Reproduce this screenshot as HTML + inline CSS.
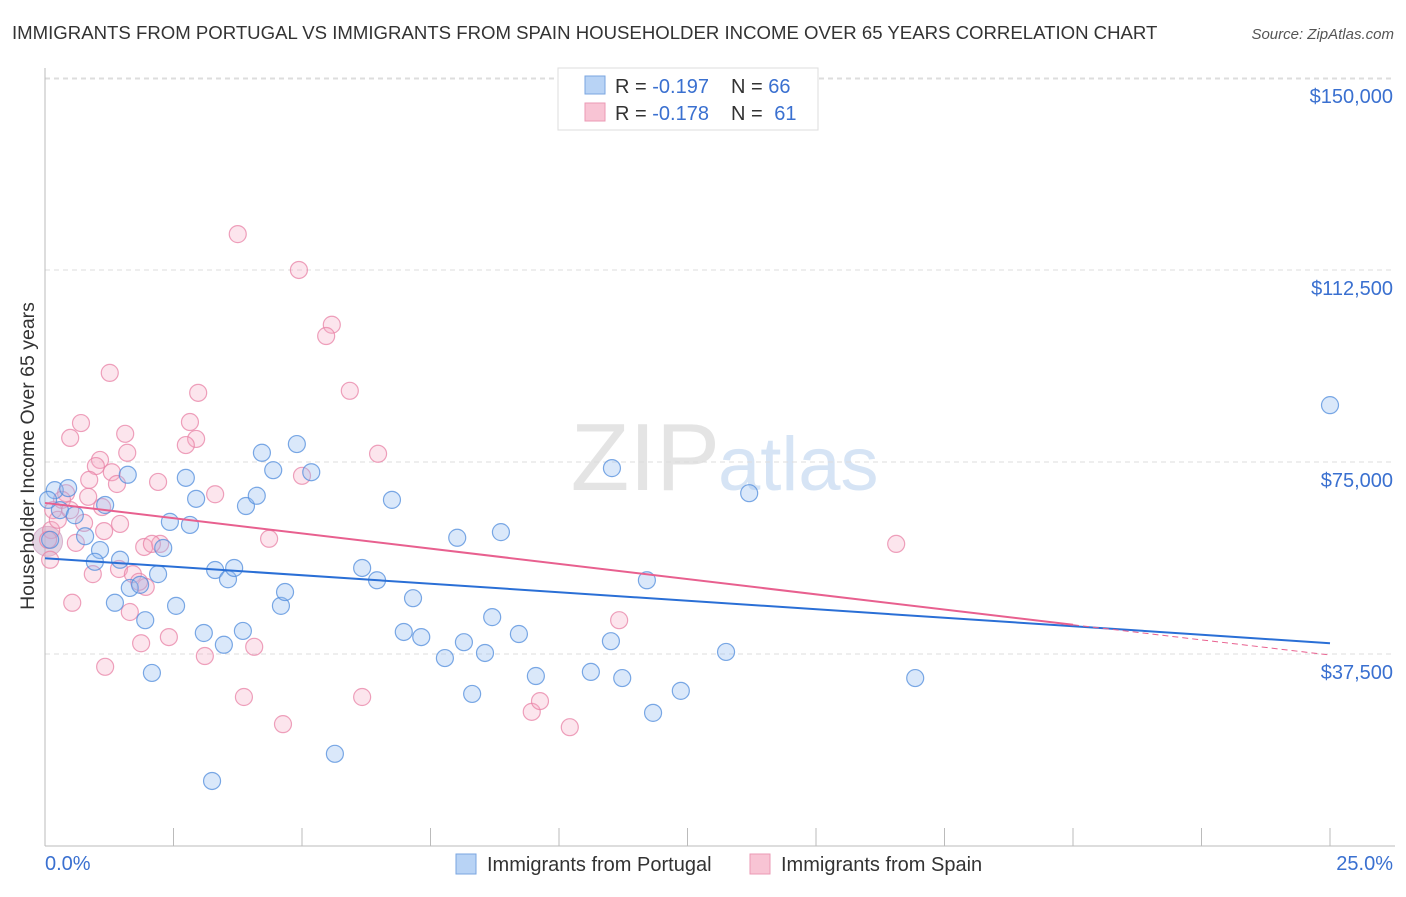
<!DOCTYPE html>
<html><head><meta charset="utf-8"><style>
body{margin:0;background:#fff;font-family:"Liberation Sans",sans-serif;}
svg text{font-family:"Liberation Sans",sans-serif;}
</style></head><body>
<svg id="chart" width="1406" height="892" xmlns="http://www.w3.org/2000/svg">
<text x="12" y="39" font-size="18.6" fill="#333">IMMIGRANTS FROM PORTUGAL VS IMMIGRANTS FROM SPAIN HOUSEHOLDER INCOME OVER 65 YEARS CORRELATION CHART</text>
<text x="1394" y="39" font-size="15" fill="#555" font-style="italic" text-anchor="end">Source: ZipAtlas.com</text>
<text x="720" y="490" font-size="96" fill="#e4e4e4" text-anchor="end" font-family="Liberation Serif">ZIP</text>
<text x="718" y="490" font-size="76" fill="#d6e4f5">atlas</text>
<g id="grid"></g><g id="axes"></g><g id="pts"></g><g id="lines"></g>
<text transform="translate(34,456) rotate(-90)" font-size="19.5" fill="#333" text-anchor="middle">Householder Income Over 65 years</text>
<text x="45" y="870" font-size="20" fill="#3a70d0">0.0%</text>
<text x="1393" y="870" font-size="20" fill="#3a70d0" text-anchor="end">25.0%</text>
<g>
<rect x="558" y="68" width="260" height="62" fill="#fff" stroke="#ddd"/>
<rect x="585" y="76" width="20" height="18" fill="#b8d3f5" stroke="#7aa6e0"/>
<rect x="585" y="103" width="20" height="18" fill="#f8c4d4" stroke="#eb9ab4"/>
<text x="615" y="93" font-size="20" fill="#333">R = <tspan fill="#3a70d0">-0.197</tspan><tspan x="731">N = </tspan><tspan fill="#3a70d0">66</tspan></text>
<text x="615" y="120" font-size="20" fill="#333">R = <tspan fill="#3a70d0">-0.178</tspan><tspan x="731">N = </tspan><tspan fill="#3a70d0" dx="6">61</tspan></text>
</g>
<g>
<rect x="456" y="854" width="20" height="20" fill="#b8d3f5" stroke="#7aa6e0"/>
<text x="487" y="871" font-size="20" fill="#333">Immigrants from Portugal</text>
<rect x="750" y="854" width="20" height="20" fill="#f8c4d4" stroke="#eb9ab4"/>
<text x="781" y="871" font-size="20" fill="#333">Immigrants from Spain</text>
</g>
</svg>
<script>
const yTicks=[37.5,75,112.5,150];
const yTickLabels=["$37,500","$75,000","$112,500","$150,000"];
const xTicks=[0,2.5,5,7.5,10,12.5,15,17.5,20,22.5,25];
const portugalX=[0.19,0.45,0.29,0.58,0.78,1.07,0.97,1.17,1.46,1.61,1.36,1.65,1.85,1.95,2.20,2.30,2.43,2.08,2.55,2.74,2.82,2.94,3.09,3.25,3.31,3.48,3.56,3.68,3.85,3.91,4.12,4.22,4.44,4.59,4.67,4.90,5.18,5.64,6.17,6.46,6.75,6.98,7.16,7.32,7.78,8.02,8.15,8.31,8.56,8.70,8.87,9.22,9.55,10.62,11.01,11.03,11.23,11.71,11.83,12.37,13.25,13.70,16.93,25.0,0.10,0.06];
const portugalY=[69.5,69.9,65.6,64.6,60.5,57.8,55.5,66.6,55.9,72.5,47.5,50.4,51.0,44.1,53.1,58.2,63.3,33.8,46.9,71.9,62.7,67.8,41.6,12.7,53.9,39.3,52.1,54.3,42.0,66.4,68.4,76.8,73.4,46.9,49.6,78.5,73.0,18.0,54.3,51.9,67.6,41.8,48.4,40.8,36.7,60.2,39.8,29.7,37.7,44.7,61.3,41.4,33.2,34.0,40.0,73.8,32.8,51.9,26.0,30.3,37.9,68.9,32.8,86.1,59.8,67.6];
const spainX=[3.75,4.94,5.58,5.47,1.26,2.98,5.93,0.70,2.82,0.49,1.56,2.94,2.74,1.60,1.07,6.48,0.99,1.30,0.86,1.40,2.20,5.00,3.31,0.84,0.41,1.11,0.16,0.76,1.46,0.12,1.15,0.60,2.24,1.93,2.08,4.36,1.44,1.71,1.96,0.93,1.83,0.53,1.65,1.87,2.41,3.11,4.07,1.17,3.87,4.63,6.17,9.47,9.63,10.21,11.17,16.56,0.06,0.25,0.33,0.10,0.49];
const spainY=[119.5,112.5,101.8,99.6,92.4,88.5,88.9,82.6,82.8,79.7,80.5,79.5,78.3,76.8,75.4,76.6,74.2,73.0,71.5,70.7,71.1,72.3,68.7,68.2,68.9,66.2,65.6,63.1,62.9,61.7,61.5,59.2,59.0,58.4,59.0,60.0,54.1,53.1,50.6,53.1,51.6,47.5,45.7,39.6,40.8,37.1,38.9,35.0,29.1,23.8,29.1,26.2,28.3,23.2,44.1,59.0,59.8,63.7,67.6,55.9,65.6];
const portugalTrend=[56.2,39.6];
const spainTrend=[67.0,43.2,37.3];
const NS="http://www.w3.org/2000/svg";
const X=v=>45+v*51.4, Y=v=>846-v/0.1953;
function mk(tag,at,parent){const e=document.createElementNS(NS,tag);for(const k in at)e.setAttribute(k,at[k]);document.getElementById(parent).appendChild(e);return e;}
const gl=mk('line',{x1:45,x2:1395,y1:79,y2:79,stroke:'#ddd','stroke-dasharray':'5,4'},'grid');


yTicks.forEach((t,i)=>{
 const l=mk('line',{x1:45,x2:1395,y1:Y(t),y2:Y(t),stroke:'#ddd','stroke-dasharray':'5,4'},'grid');
 
 
 const tx=mk('text',{x:1393,y:Y(t)+25,'font-size':20,fill:'#3a70d0','text-anchor':'end'},'grid');
 tx.textContent=yTickLabels[i];
 
 
});
const ya=mk('line',{x1:45,x2:45,y1:68,y2:846,stroke:'#bbb'},'axes');


const xa=mk('line',{x1:45,x2:1395,y1:846,y2:846,stroke:'#bbb'},'axes');


xTicks.forEach(t=>{
 const l=mk('line',{x1:X(t),x2:X(t),y1:828,y2:846,stroke:'#bbb'},'axes');
 
 
});
const big=mk('circle',{cx:X(0.05),cy:Y(59.5),r:15,fill:'rgba(200,170,200,0.5)',stroke:'rgba(200,140,180,0.6)'},'pts');


spainX.forEach((v,i)=>{
 const c=mk('circle',{cx:X(v),cy:Y(spainY[i]),r:8.5,fill:'rgba(244,170,195,0.3)',stroke:'rgba(232,130,165,0.75)','stroke-width':1.2},'pts');
 
 
});
portugalX.forEach((v,i)=>{
 const c=mk('circle',{cx:X(v),cy:Y(portugalY[i]),r:8.5,fill:'rgba(150,190,240,0.35)',stroke:'rgba(80,140,220,0.75)','stroke-width':1.2},'pts');
 
 
});
const bl=mk('line',{x1:X(0),y1:Y(portugalTrend[0]),x2:X(25),y2:Y(portugalTrend[1]),stroke:'#2a6fd6','stroke-width':2},'lines');


const pl=mk('line',{x1:X(0),y1:Y(spainTrend[0]),x2:X(20),y2:Y(spainTrend[1]),stroke:'#e8608f','stroke-width':2},'lines');


const pd=mk('line',{x1:X(20),y1:Y(spainTrend[1]),x2:X(25),y2:Y(spainTrend[2]),stroke:'#e8608f','stroke-width':1,'stroke-dasharray':'6,4'},'lines');


</script>
</body></html>
